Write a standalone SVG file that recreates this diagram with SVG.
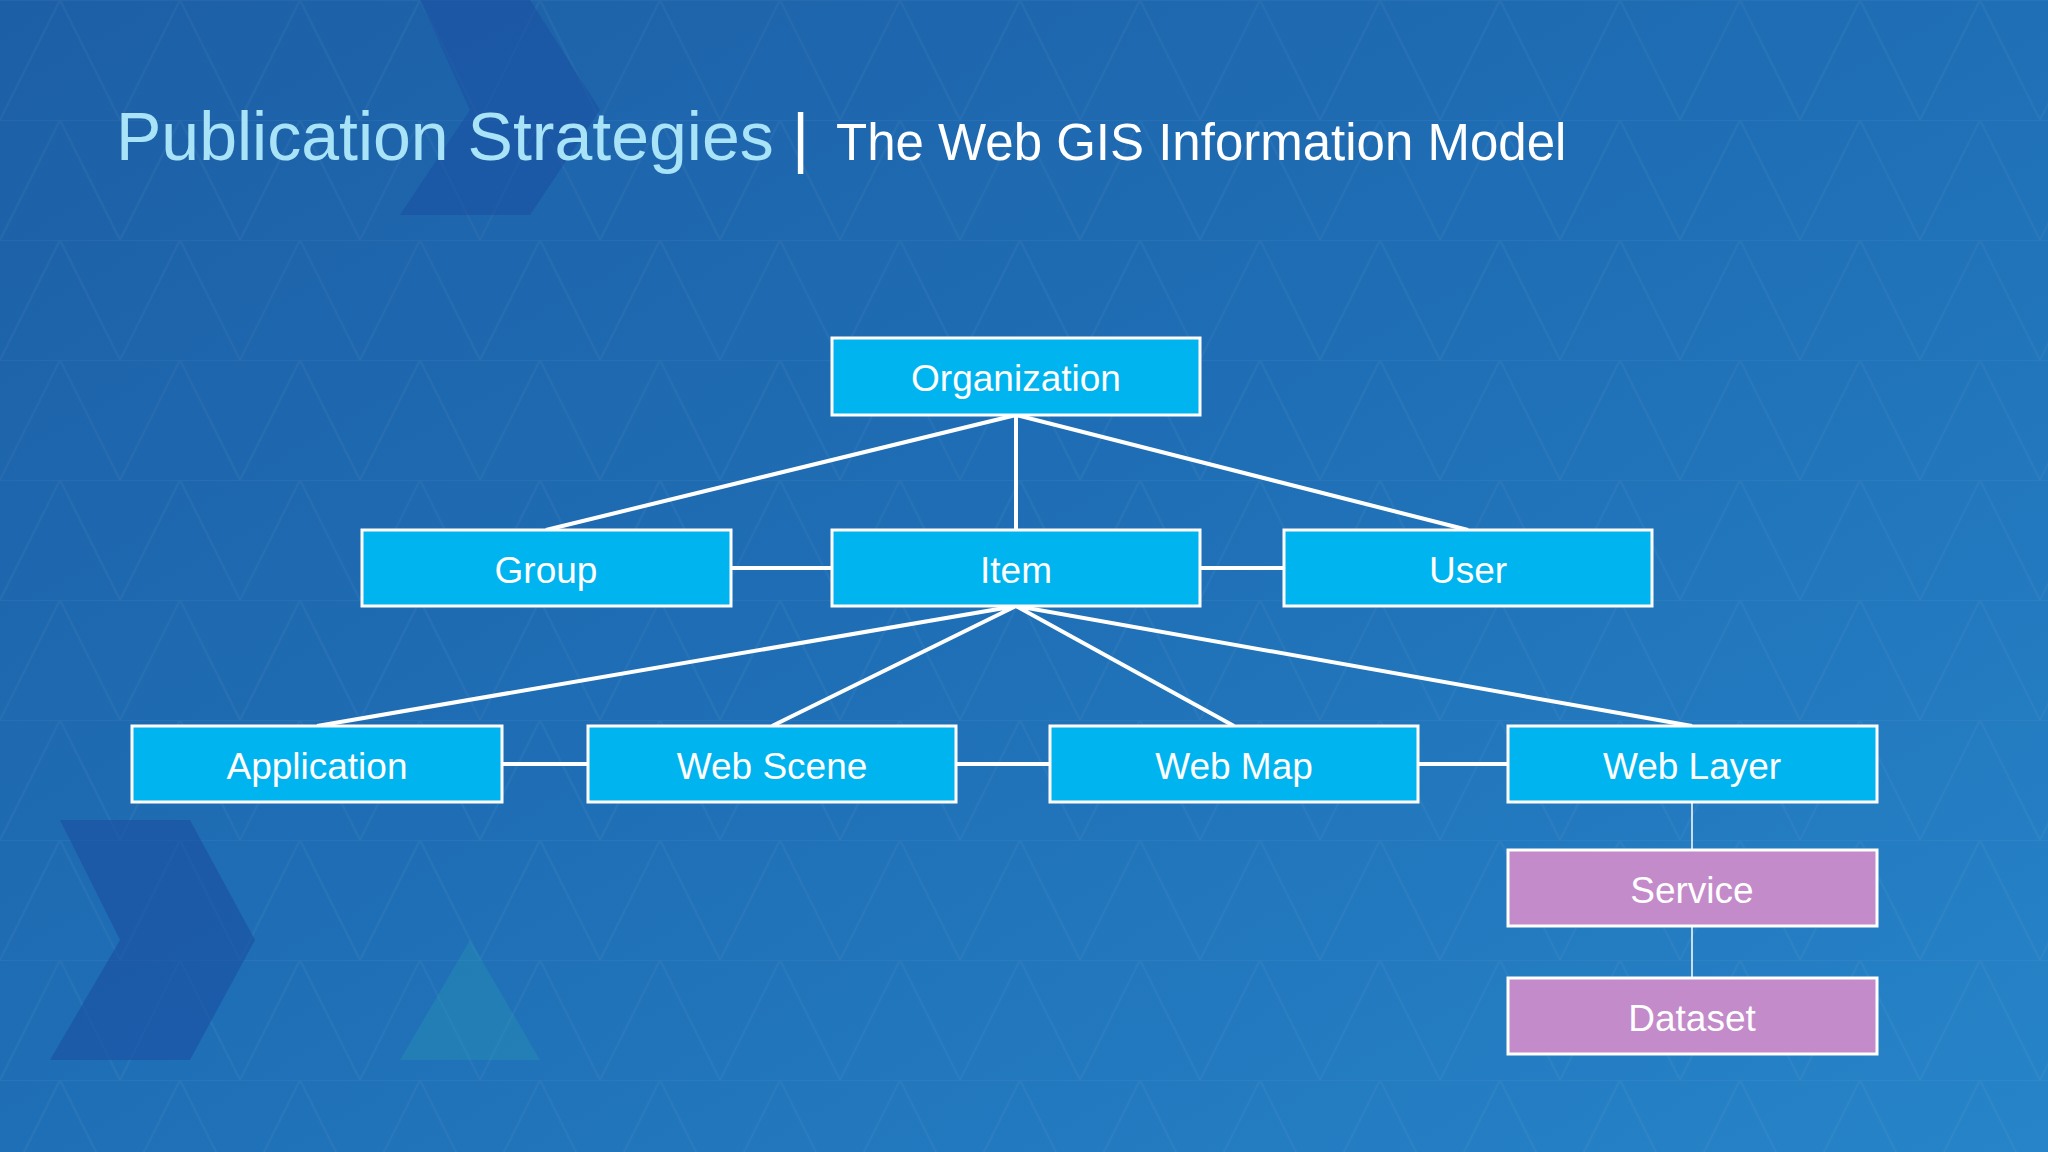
<svg xmlns="http://www.w3.org/2000/svg" width="2048" height="1152" viewBox="0 0 2048 1152">
<defs>
<linearGradient id="bg" x1="0" y1="0" x2="1" y2="1">
<stop offset="0" stop-color="#1d5fa6"/>
<stop offset="0.5" stop-color="#1f6fb6"/>
<stop offset="1" stop-color="#2784c8"/>
</linearGradient>
<pattern id="tri" width="120" height="120" patternUnits="userSpaceOnUse">
<path d="M0 120 L60 0 L120 120 M0 0 H120" fill="none" stroke="#ffffff" stroke-opacity="0.04" stroke-width="2"/>
</pattern>
<style>
.box{fill:#00b4ef;stroke:#ffffff;stroke-width:3}
.pbox{fill:#c38bc9;stroke:#ffffff;stroke-width:3}
.lbl{font-family:"Liberation Sans",Arial,sans-serif;font-size:37px;fill:#ffffff;text-anchor:middle}
.ln{stroke:#ffffff;stroke-width:4;fill:none}
.thin{stroke:#ffffff;stroke-width:1.5;fill:none}
</style>
</defs>
<rect width="2048" height="1152" fill="url(#bg)"/>
<rect width="2048" height="1152" fill="url(#tri)"/>
<polygon points="420,0 530,0 600,110 530,215 400,215 470,110" fill="#1a4fa0" opacity="0.55"/>
<polygon points="60,820 190,820 255,940 190,1060 50,1060 120,940" fill="#1a4fa0" opacity="0.6"/>
<polygon points="470,940 540,1060 400,1060" fill="#2a9ab0" opacity="0.3"/>
<text x="116" y="160" font-family="'Liberation Sans',Arial,sans-serif" font-size="68" fill="#a9e3f7">Publication Strategies</text>
<text x="792" y="160" font-family="'Liberation Sans',Arial,sans-serif" font-size="66" fill="#ffffff">|</text>
<text x="836" y="160" font-family="'Liberation Sans',Arial,sans-serif" font-size="51" fill="#ffffff">The Web GIS Information Model</text>
<g id="connectors">
<path class="ln" d="M1016 415 L546 530 M1016 415 L1016 530 M1016 415 L1468 530"/>
<path class="ln" d="M1016 606 L317 726 M1016 606 L772 726 M1016 606 L1234 726 M1016 606 L1692 726"/>
<path class="ln" d="M731 568 H832 M1200 568 H1284"/>
<path class="ln" d="M502 764 H588 M956 764 H1050 M1418 764 H1508"/>
<path class="thin" d="M1692 802 V850 M1692 926 V978"/>
</g>
<g id="organization"><rect class="box" x="832" y="338" width="368" height="77"/><text class="lbl" x="1016" y="391">Organization</text></g>
<g id="group"><rect class="box" x="362" y="530" width="369" height="76"/><text class="lbl" x="546" y="583">Group</text></g>
<g id="item"><rect class="box" x="832" y="530" width="368" height="76"/><text class="lbl" x="1016" y="583">Item</text></g>
<g id="user"><rect class="box" x="1284" y="530" width="368" height="76"/><text class="lbl" x="1468" y="583">User</text></g>
<g id="application"><rect class="box" x="132" y="726" width="370" height="76"/><text class="lbl" x="317" y="779">Application</text></g>
<g id="webscene"><rect class="box" x="588" y="726" width="368" height="76"/><text class="lbl" x="772" y="779">Web Scene</text></g>
<g id="webmap"><rect class="box" x="1050" y="726" width="368" height="76"/><text class="lbl" x="1234" y="779">Web Map</text></g>
<g id="weblayer"><rect class="box" x="1508" y="726" width="369" height="76"/><text class="lbl" x="1692" y="779">Web Layer</text></g>
<g id="service"><rect class="pbox" x="1508" y="850" width="369" height="76"/><text class="lbl" x="1692" y="903">Service</text></g>
<g id="dataset"><rect class="pbox" x="1508" y="978" width="369" height="76"/><text class="lbl" x="1692" y="1031">Dataset</text></g>
</svg>
